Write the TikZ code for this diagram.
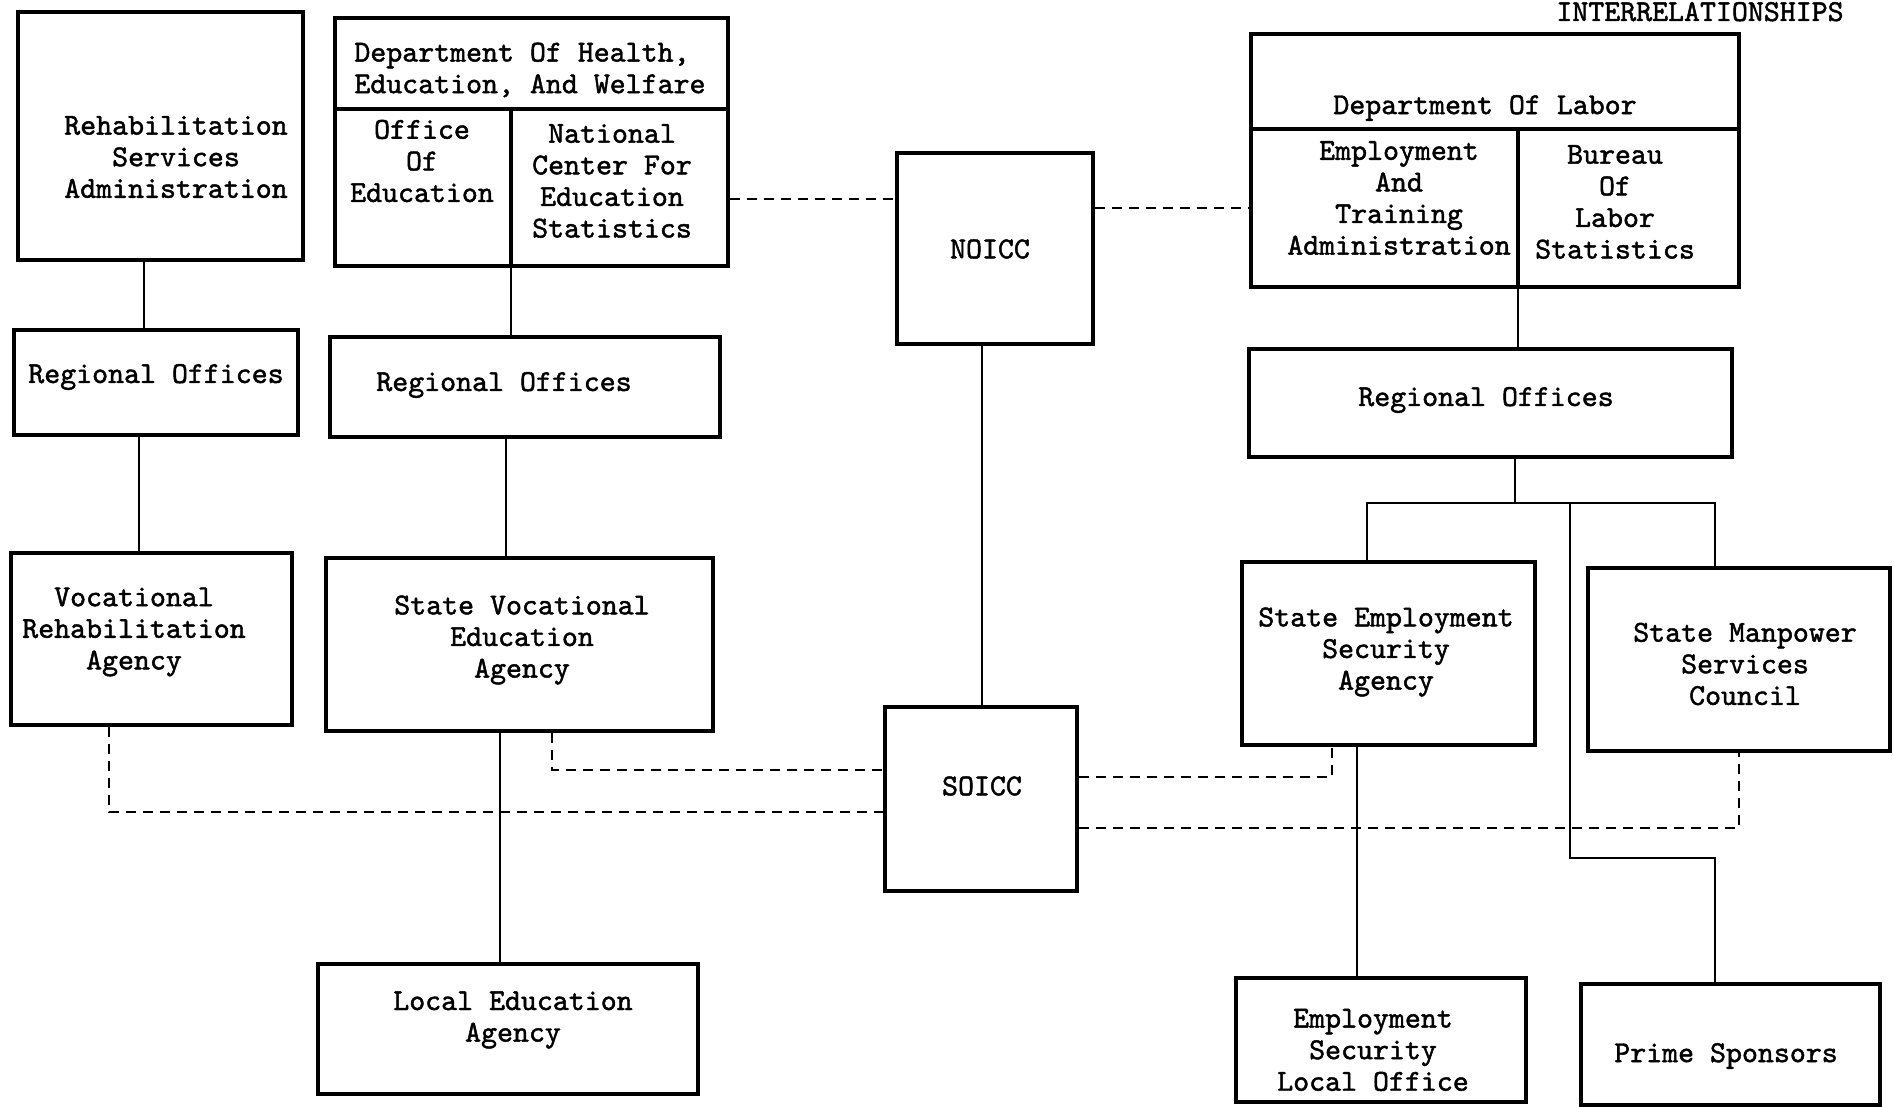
\documentclass[tikz,border=0pt]{standalone}
\usepackage{fontspec}
\newfontfamily\tw{lmmono10-regular}[Extension=.otf, FakeBold=1.5]
\usetikzlibrary{fit}
\begin{document}
\begin{tikzpicture}[x=0.5pt,y=-0.5pt,
  box/.style={draw, line width=1.7pt, inner sep=0pt},
  txt/.style={align=center, inner sep=0pt, font=\tw\fontsize{15.2}{15.8}\selectfont},
  conn/.style={line width=1.2pt},
  dsh/.style={line width=1.2pt, dash pattern=on 5pt off 3.5pt}]
\useasboundingbox (0,0) rectangle (1894,1107);

% left column
\node[box, fit={(18,12) (303,260)}] (rsa) {};
\node[txt] (rsat) at (176,157) {Rehabilitation\\Services\\Administration};
\node[box, fit={(14,330) (298,435)}] (ro1) {};
\node[txt] (ro1t) at (156,377) {Regional Offices};
\node[box, fit={(11,553) (292,725)}] (vra) {};
\node[txt] (vrat) at (134,632) {Vocational\\Rehabilitation\\Agency};

% HEW
\node[box, fit={(335,18) (728,109)}] (hew) {};
\node[box, fit={(335,109) (511,266)}] (oe) {};
\node[box, fit={(511,109) (728,266)}] (nces) {};
\node[txt, align=left, anchor=west] (hewt) at (354,70) {Department Of Health,\\Education, And Welfare};
\node[txt] (oet) at (422,161) {Office\\Of\\Education};
\node[txt] (ncest) at (612,181) {National\\Center For\\Education\\Statistics};
\node[box, fit={(330,337) (720,437)}] (ro2) {};
\node[txt] (ro2t) at (504,385) {Regional Offices};
\node[box, fit={(326,558) (713,731)}] (svea) {};
\node[txt] (sveat) at (522,640) {State Vocational\\Education\\Agency};
\node[box, fit={(318,964) (698,1094)}] (lea) {};
\node[txt] (leat) at (513,1020) {Local Education\\Agency};

% center
\node[box, fit={(897,153) (1093,344)}] (noicc) {};
\node[txt] (noicct) at (990,249) {NOICC};
\node[box, fit={(885,707) (1077,891)}] (soicc) {};
\node[txt] (soicct) at (982,786) {SOICC};

% DOL
\node[box, fit={(1251,34) (1739,129)}] (dol) {};
\node[box, fit={(1251,129) (1518,287)}] (eta) {};
\node[box, fit={(1518,129) (1739,287)}] (bls) {};
\node[txt] (dolt) at (1485,108) {Department Of Labor};
\node[txt] (etat) at (1399,198) {Employment\\And\\Training\\Administration};
\node[txt] (blst) at (1615,202) {Bureau\\Of\\Labor\\Statistics};
\node[box, fit={(1249,349) (1732,457)}] (ro3) {};
\node[txt] (ro3t) at (1486,400) {Regional Offices};
\node[box, fit={(1242,562) (1535,745)}] (sesa) {};
\node[txt] (sesat) at (1386,652) {State Employment\\Security\\Agency};
\node[box, fit={(1588,568) (1890,751)}] (smsc) {};
\node[txt] (smsct) at (1745,664) {State Manpower\\Services\\Council};
\node[box, fit={(1236,978) (1526,1102)}] (eslo) {};
\node[txt] (eslot) at (1373,1050) {Employment\\Security\\Local Office};
\node[box, fit={(1581,984) (1880,1105)}] (ps) {};
\node[txt] (pst) at (1726,1056) {Prime Sponsors};

\node[txt, anchor=base] (title) at (1700,21) {INTERRELATIONSHIPS};

% solid connectors
\draw[conn] (144,0 |- rsa.south) -- (144,0 |- ro1.north);
\draw[conn] (139,0 |- ro1.south) -- (139,0 |- vra.north);
\draw[conn] (511,0 |- oe.south) -- (511,0 |- ro2.north);
\draw[conn] (506,0 |- ro2.south) -- (506,0 |- svea.north);
\draw[conn] (500,0 |- svea.south) -- (500,0 |- lea.north);
\draw[conn] (982,0 |- noicc.south) -- (982,0 |- soicc.north);
\draw[conn] (1518,0 |- eta.south) -- (1518,0 |- ro3.north);
\coordinate (br) at (1515,503);
\coordinate (brl) at (1367,503);
\coordinate (brr) at (1715,503);
\coordinate (brm) at (1570,503);
\draw[conn] (1515,0 |- ro3.south) -- (br);
\draw[conn] (1367,0 |- sesa.north) -- (brl) -- (brr) -- (1715,0 |- smsc.north);
\draw[conn] (brm) -- (1570,858) -- (1715,858) -- (1715,0 |- ps.north);
\draw[conn] (1357,0 |- sesa.south) -- (1357,0 |- eslo.north);

% dashed connectors
\draw[dsh] (nces.east |- 0,199) -- (noicc.west |- 0,199);
\draw[dsh] (noicc.east |- 0,208) -- (eta.west |- 0,208);
\draw[dsh] (109,0 |- vra.south) -- (109,812) -- (soicc.west |- 0,812);
\draw[dsh] (552,0 |- svea.south) -- (552,770) -- (soicc.west |- 0,770);
\draw[dsh] (soicc.east |- 0,777) -- (1332,777) -- (1332,0 |- sesa.south);
\draw[dsh] (soicc.east |- 0,828) -- (1739,828) -- (1739,0 |- smsc.south);
\end{tikzpicture}
\end{document}
